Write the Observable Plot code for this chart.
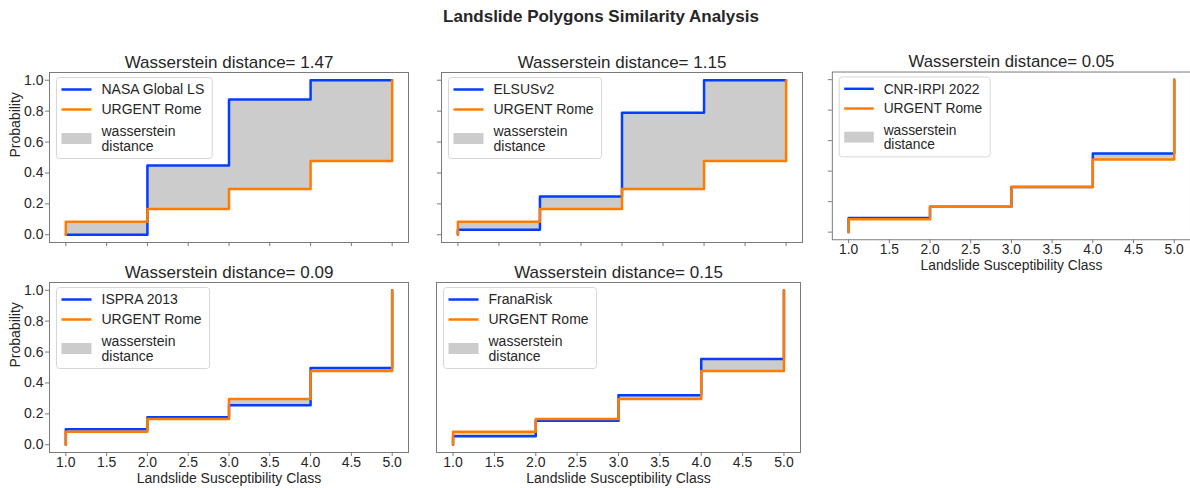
<!DOCTYPE html>
<html><head><meta charset="utf-8">
<script src="https://cdn.jsdelivr.net/npm/d3@7"></script>
<script src="https://cdn.jsdelivr.net/npm/@observablehq/plot@0.6"></script>
<style>
body{margin:0;background:#fff;}
#root{position:relative;width:1190px;height:488px;overflow:hidden;font-family:"Liberation Sans",Arial,sans-serif;color:#262626;background:#fff;}
.panel{position:absolute;}
#title{position:absolute;top:7px;left:601px;transform:translateX(-50%);font-weight:bold;font-size:17px;white-space:nowrap;color:#262626;}
</style></head><body>
<div id="root"><div id="title">Landslide Polygons Similarity Analysis</div></div>
<script>
// ---- data ----
const classes = [1, 2, 3, 4, 5];
const urgentRome = [0.085, 0.166, 0.296, 0.477, 1.0];
const nasaGlobalLS = [0.0, 0.449, 0.876, 1.0, 1.0];
const elsusV2 = [0.032, 0.247, 0.79, 1.0, 1.0];
const cnrIrpi2022 = [0.092, 0.166, 0.296, 0.515, 1.0];
const ispra2013 = [0.10, 0.178, 0.255, 0.497, 1.0];
const franaRisk = [0.055, 0.155, 0.32, 0.555, 1.0];
const seriesNames = ["NASA Global LS", "ELSUSv2", "CNR-IRPI 2022", "ISPRA 2013", "FranaRisk"];
const seriesValues = [nasaGlobalLS, elsusV2, cnrIrpi2022, ispra2013, franaRisk];
const distances = ["1.47", "1.15", "0.05", "0.09", "0.15"];
const refName = "URGENT Rome";
const fillLabel = ["wasserstein", "distance"];
const xTicks = [1.0, 1.5, 2.0, 2.5, 3.0, 3.5, 4.0, 4.5, 5.0];
const yTicks = [0.0, 0.2, 0.4, 0.6, 0.8, 1.0];
const xLabel = "Landslide Susceptibility Class";
const yLabel = "Probability";

// ---- layout (frame boxes in page px) ----
const layout = [
  {L:49, T:72, R:408, B:242, ml:49, mr:12, mb:10, xLab:false, yLab:true, yTick:true},
  {L:441, T:72, R:802, B:242, ml:12, mr:8, mb:10, xLab:false, yLab:false, yTick:true},
  {L:832, T:72, R:1195, B:242, ml:12, mr:0, mb:38, xLab:true, yLab:false, yTick:true},
  {L:49, T:282, R:408, B:452, ml:49, mr:12, mb:36, xLab:true, yLab:true, yTick:true},
  {L:436, T:282, R:800, B:452, ml:12, mr:10, mb:36, xLab:true, yLab:false, yTick:false}
];
const MT = 35;
const BLUE = "#023eff", ORANGE = "#ff7c00", GREY = "#cccccc", AXIS = "#7a7a7a", TEXT = "#262626";
const root = document.getElementById("root");

seriesValues.forEach((vals, k) => {
  const g = layout[k];
  const rows = [{x: classes[0], a: 0, b: 0}].concat(classes.map((c, i) => ({x: c, a: vals[i], b: urgentRome[i]})));
  const marks = [
    Plot.areaY(rows, {x: "x", y1: "a", y2: "b", curve: "step-after", fill: GREY}),
    Plot.line(rows, {x: "x", y: "a", curve: "step-after", stroke: BLUE, strokeWidth: 2.5}),
    Plot.line(rows, {x: "x", y: "b", curve: "step-after", stroke: ORANGE, strokeWidth: 2.5}),
    Plot.frame({stroke: AXIS}),
    Plot.axisX({ticks: xTicks, tickSize: 4, tickPadding: 1, stroke: AXIS, fill: TEXT, fontSize: 14,
      tickFormat: g.xLab ? (d => d.toFixed(1)) : (() => ""), label: null}),
    Plot.text(["Wasserstein distance= " + distances[k]], {frameAnchor: "top", lineAnchor: "bottom", dy: -5, fontSize: 17, fill: TEXT})
  ];
  if (g.yTick) marks.push(Plot.axisY({ticks: yTicks, tickSize: 4, tickPadding: 2, stroke: AXIS, fill: TEXT, fontSize: 14,
      tickFormat: g.yLab ? (d => d.toFixed(1)) : (() => ""), label: null}));
  if (g.xLab) marks.push(Plot.text([xLabel], {frameAnchor: "bottom", lineAnchor: "middle", dy: 26, fontSize: 14, fill: TEXT}));
  if (g.yLab) marks.push(Plot.text([yLabel], {frameAnchor: "left", lineAnchor: "middle", rotate: -90, dx: -34, fontSize: 14, fill: TEXT}));
  const fw = g.R - g.L, fh = g.B - g.T;
  const svg = Plot.plot({
    width: g.ml + fw + g.mr, height: MT + fh + g.mb,
    marginLeft: g.ml, marginRight: g.mr, marginTop: MT, marginBottom: g.mb,
    x: {domain: [0.8, 5.2]},
    y: {domain: [-0.05, 1.05], axis: g.yTick ? undefined : null},
    style: {fontFamily: "Liberation Sans, Arial, sans-serif", fontSize: "14px", color: TEXT, background: "transparent", overflow: "visible"},
    marks
  });
  const div = document.createElement("div");
  div.className = "panel";
  div.style.left = (g.L - g.ml) + "px";
  div.style.top = (g.T - MT) + "px";
  div.appendChild(svg);
  root.appendChild(div);

  // legend box (upper left inside frame)
  const lg = d3.select(svg).append("g").attr("transform", `translate(${g.ml + 7.5},${MT + 5.5})`)
    .attr("font-family", "Liberation Sans, Arial, sans-serif").attr("font-size", 14).attr("fill", TEXT)
    .attr("text-anchor", "start");
  const box = lg.append("rect").attr("x", 0).attr("y", 0).attr("height", 81).attr("rx", 3)
    .attr("fill", "white").attr("fill-opacity", 0.85).attr("stroke", "#d6d6d6");
  lg.append("line").attr("x1", 5).attr("x2", 35).attr("y1", 12).attr("y2", 12).attr("stroke", BLUE).attr("stroke-width", 2.5);
  lg.append("line").attr("x1", 5).attr("x2", 35).attr("y1", 32).attr("y2", 32).attr("stroke", ORANGE).attr("stroke-width", 2.5);
  lg.append("rect").attr("x", 5).attr("y", 55.5).attr("width", 30).attr("height", 11).attr("fill", GREY);
  const texts = [[seriesNames[k], 12], [refName, 32], [fillLabel[0], 53.5], [fillLabel[1], 68.5]];
  let maxW = 0;
  texts.forEach(([t, y]) => {
    const el = lg.append("text").attr("x", 45).attr("y", y).attr("dy", "0.35em").attr("text-anchor", "start").text(t);
    maxW = Math.max(maxW, el.node().getComputedTextLength());
  });
  box.attr("width", 45 + maxW + 8);
});
</script>
</body></html>
